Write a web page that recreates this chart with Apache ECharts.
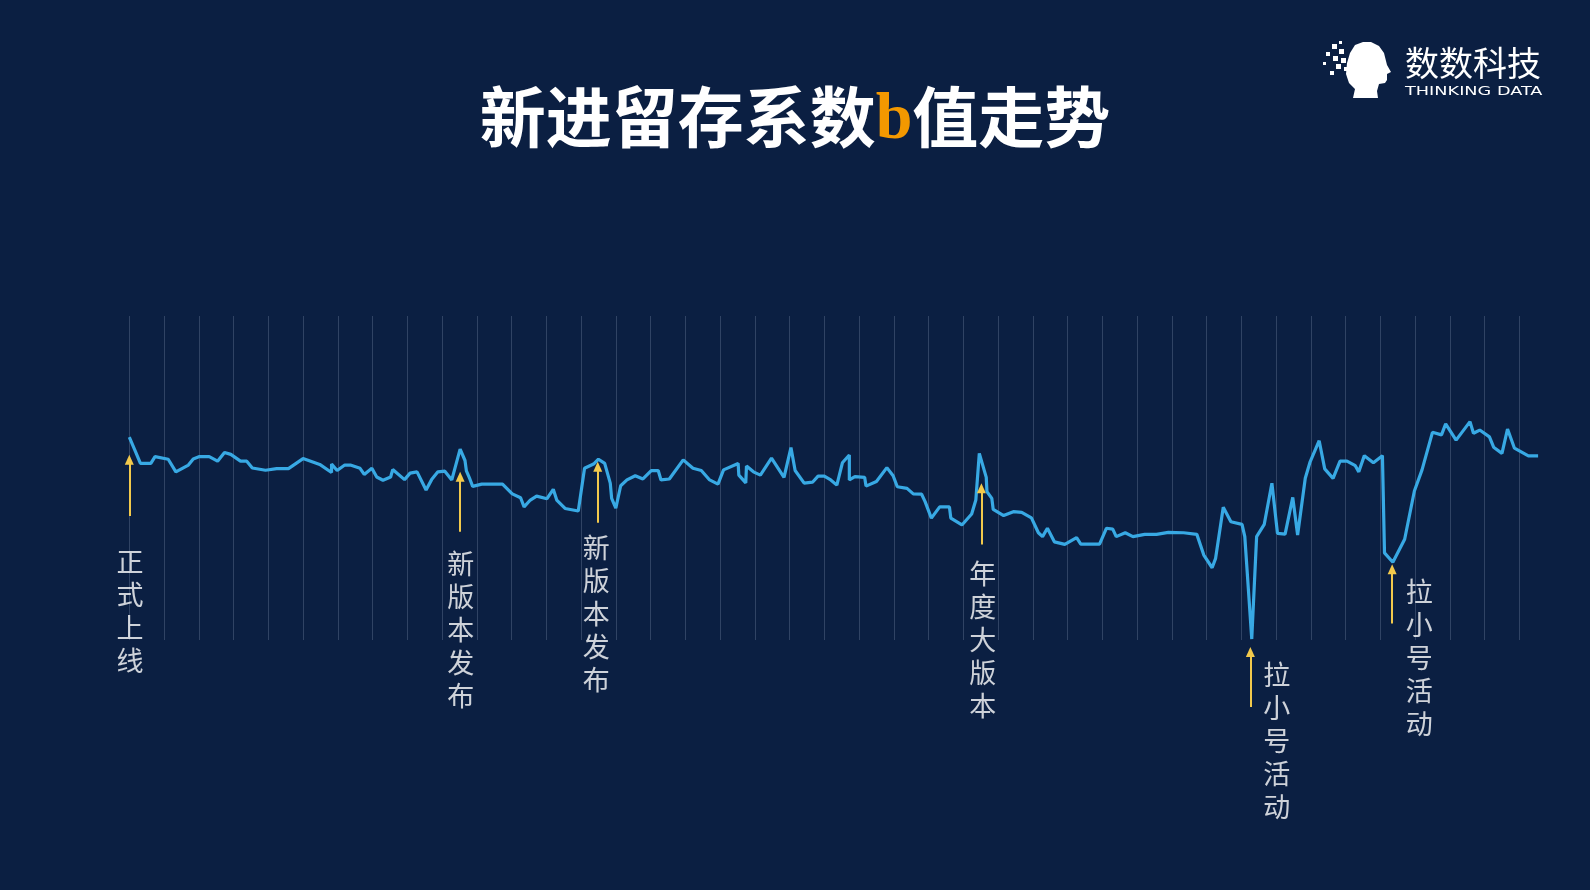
<!DOCTYPE html>
<html><head><meta charset="utf-8">
<script src="https://cdn.jsdelivr.net/npm/echarts@6/dist/echarts.min.js"></script>
<style>html,body{margin:0;padding:0;background:#0b1f42;}#c{width:1590px;height:890px;}</style>
</head><body><div id="c"></div>
<script>
// day position of each vertex of the line (grid line every 5 days)
const dayPos = [0,0.8,1.6,3.1,3.7,5.6,6.7,8.5,9.2,10.1,11.5,12.7,13.7,14.6,16.0,16.9,17.7,19.6,21.2,22.9,25.0,27.4,29.1,29.1,29.9,31.0,31.8,33.2,33.8,34.9,35.6,36.5,37.6,37.9,39.6,40.4,41.4,42.7,43.5,44.4,45.4,46.4,47.6,48.3,48.5,49.0,49.4,50.7,53.7,55.1,56.3,56.8,57.7,58.6,60.1,61.0,61.5,62.7,64.6,65.5,66.8,67.5,68.4,69.2,69.4,70.0,70.7,71.6,72.8,73.9,75.1,76.1,76.5,77.7,79.7,81.1,82.3,83.5,84.7,85.5,87.6,87.7,88.7,88.8,89.8,90.8,92.4,94.2,95.2,95.8,97.1,98.3,99.1,100.0,100.8,101.8,102.6,103.6,103.6,104.4,105.8,106.0,107.5,109.0,109.9,110.5,111.9,112.8,114.0,114.5,115.4,116.6,118.0,118.2,119.8,121.2,121.8,122.3,123.3,123.4,124.1,124.3,125.8,127.2,128.4,129.8,130.8,131.4,132.1,133.1,134.6,136.3,136.9,139.6,140.6,141.5,142.0,143.3,144.4,146.1,147.8,149.5,151.7,153.6,154.6,155.8,156.3,157.4,158.5,160.1,160.5,161.5,162.2,163.3,164.4,165.2,166.3,167.4,168.1,169.2,169.9,171.2,172.0,173.2,174.2,175.2,176.4,176.9,177.7,179.0,180.3,180.6,181.8,183.5,184.9,186.0,187.5,188.8,189.4,190.9,192.9,193.4,194.3,195.7,196.3,197.5,198.3,199.3,201.3,202.7];
// b value (relative scale 0-100)
const bValues = [62.6,58.6,54.5,54.5,56.6,55.8,51.9,54.0,55.9,56.6,56.6,55.2,57.9,57.3,55.2,55.2,53.1,52.4,52.9,52.9,56.0,54.2,51.7,54.3,52.3,54.0,54.0,53.0,51.1,53.0,50.3,49.3,50.3,52.6,49.5,51.5,51.9,46.3,49.5,51.9,52.1,49.4,58.9,55.4,52.2,49.7,47.4,48.1,48.1,45.1,43.9,41.1,43.2,44.4,43.6,46.5,43.2,40.6,39.8,53.0,54.3,55.8,54.5,48.4,43.7,40.7,47.6,49.4,50.7,49.7,52.3,52.3,49.4,49.7,55.6,53.0,52.3,49.4,48.1,52.5,54.5,50.9,48.5,53.7,51.9,50.9,56.1,50.2,59.4,52.3,48.4,48.7,50.6,50.6,49.6,47.8,54.7,57.1,49.4,50.4,50.2,47.5,48.9,53.2,50.7,47.3,46.8,45.1,45.0,42.7,37.6,41.1,41.1,37.6,35.5,38.9,43.2,57.6,50.2,45.8,43.7,40.3,38.4,39.6,39.4,37.7,33.1,31.9,34.5,30.3,29.5,31.6,29.6,29.6,34.5,34.2,31.9,33.1,31.9,32.6,32.6,33.2,33.1,32.6,26.2,22.3,25.2,41.0,36.5,35.7,31.9,0.3,31.9,35.7,48.4,32.9,32.7,44.0,32.4,49.9,55.0,61.5,52.8,49.9,55.2,55.2,53.8,51.9,56.9,54.7,56.9,26.9,24.0,31.1,46.0,52.5,64.1,63.3,66.7,61.7,67.4,63.8,64.8,62.7,59.5,57.6,65.1,59.2,56.8,56.8];

// annotations
const annotTexts = ['正式上线','新版本发布','新版本发布','年度大版本','拉小号活动','拉小号活动'];
const annotArrowDay = [0, 47.6, 67.4, 122.6, 161.3, 181.7];
const annotArrowTip = [55.6, 50.4, 53.5, 46.8, -3.7, 21.8];
const annotArrowTail = [38.3, 33.4, 36.2, 29.5, -20.7, 5.1];
const annotLabelDay = [0.1, 47.7, 67.2, 122.8, 165.1, 185.6];
const annotLabelTop = [29.3, 28.9, 33.6, 25.8, -5.4, 20.2];

const chart = echarts.init(document.getElementById('c'));
const X_LEFT = 129.3, X_W = 1408.8;

const lineData = dayPos.map((d, i) => [d, bValues[i]]);
const labelData = annotTexts.map((t, i) => [annotLabelDay[i], annotLabelTop[i], t]);
const arrowData = annotTexts.map((t, i) => [
  { coord: [annotArrowDay[i], annotArrowTail[i]] },
  { coord: [annotArrowDay[i], annotArrowTip[i]] }
]);

// logo drawing
const headPts = [[14,4],[22,1],[30,1],[38,5],[43,12],[45,20],[46,24],[50,31],[46,33],[46,39],[44,42],[38,43],[36,50],[37,57],[12,57],[14,48],[8,42],[5,33],[6,22],[9,12]].map(p => [p[0] + 1341, p[1] + 41]);
const squares = [[1332,44,5],[1339,49,5],[1326,52,4],[1333,56,5],[1341,58,5],[1323,62,3],[1336,64,5],[1344,67,4],[1330,71,4],[1339,41,3]];

chart.setOption({
  backgroundColor: '#0b1f42',
  animation: false,
  title: {
    text: '{w|新进留存系数}{o|b}{w|值走势}',
    left: 'center',
    top: 75,
    textStyle: {
      rich: {
        w: { fontSize: 66, fontWeight: 'bold', color: '#ffffff', fontFamily: 'Noto Sans CJK SC' },
        o: { fontSize: 66, fontWeight: 'bold', color: '#f39800', fontFamily: 'Liberation Serif', padding: [8, 0, 0, 0] }
      }
    }
  },
  grid: [
    { left: X_LEFT, width: X_W, top: 316, height: 324 },
    { left: X_LEFT, width: X_W, top: 316, height: 550.8 }
  ],
  xAxis: [
    { type: 'value', gridIndex: 0, min: 0, max: 202.7, interval: 5,
      axisLine: { show: false }, axisTick: { show: false }, axisLabel: { show: false },
      splitLine: { show: true, showMaxLine: false, lineStyle: { color: 'rgba(180,195,225,0.22)', width: 1 } } },
    { type: 'value', gridIndex: 1, min: 0, max: 202.7, show: false, splitLine: { show: false } }
  ],
  yAxis: [
    { type: 'value', gridIndex: 0, min: 0, max: 100, show: false, splitLine: { show: false } },
    { type: 'value', gridIndex: 1, min: -70, max: 100, show: false, splitLine: { show: false } }
  ],
  graphic: [
    { type: 'text', x: 1405, y: 46, style: { text: '数数科技', fill: '#ffffff', font: '34px "Noto Sans CJK SC"' } },
    { type: 'text', x: 1405, y: 85, scaleX: 1.36, style: { text: 'THINKING DATA', fill: '#ffffff', font: '13px "DejaVu Sans"' } },
    { type: 'polygon', shape: { points: headPts }, style: { fill: '#ffffff' } }
  ].concat(squares.map(s => ({ type: 'rect', shape: { x: s[0], y: s[1], width: s[2], height: s[2] }, style: { fill: '#ffffff' } }))),
  series: [
    {
      type: 'line', xAxisIndex: 1, yAxisIndex: 1, data: lineData,
      showSymbol: false, symbol: 'none', z: 3,
      lineStyle: { color: '#38a9e4', width: 3.2 }
    },
    {
      type: 'scatter', xAxisIndex: 1, yAxisIndex: 1, data: labelData,
      symbolSize: 1, itemStyle: { color: 'rgba(0,0,0,0)' }, silent: true,
      label: {
        show: true, position: 'bottom', distance: 0,
        formatter: p => p.data[2].split('').join('\n'),
        fontSize: 27, lineHeight: 33, color: '#ffffff', fontFamily: 'Noto Sans CJK SC', align: 'center'
      },
      markLine: {
        silent: true, symbol: ['none', 'triangle'], symbolSize: [9, 10],
        lineStyle: { color: '#f2c94c', width: 2, type: 'solid' },
        label: { show: false },
        data: arrowData
      }
    }
  ]
});
</script>
</body></html>
